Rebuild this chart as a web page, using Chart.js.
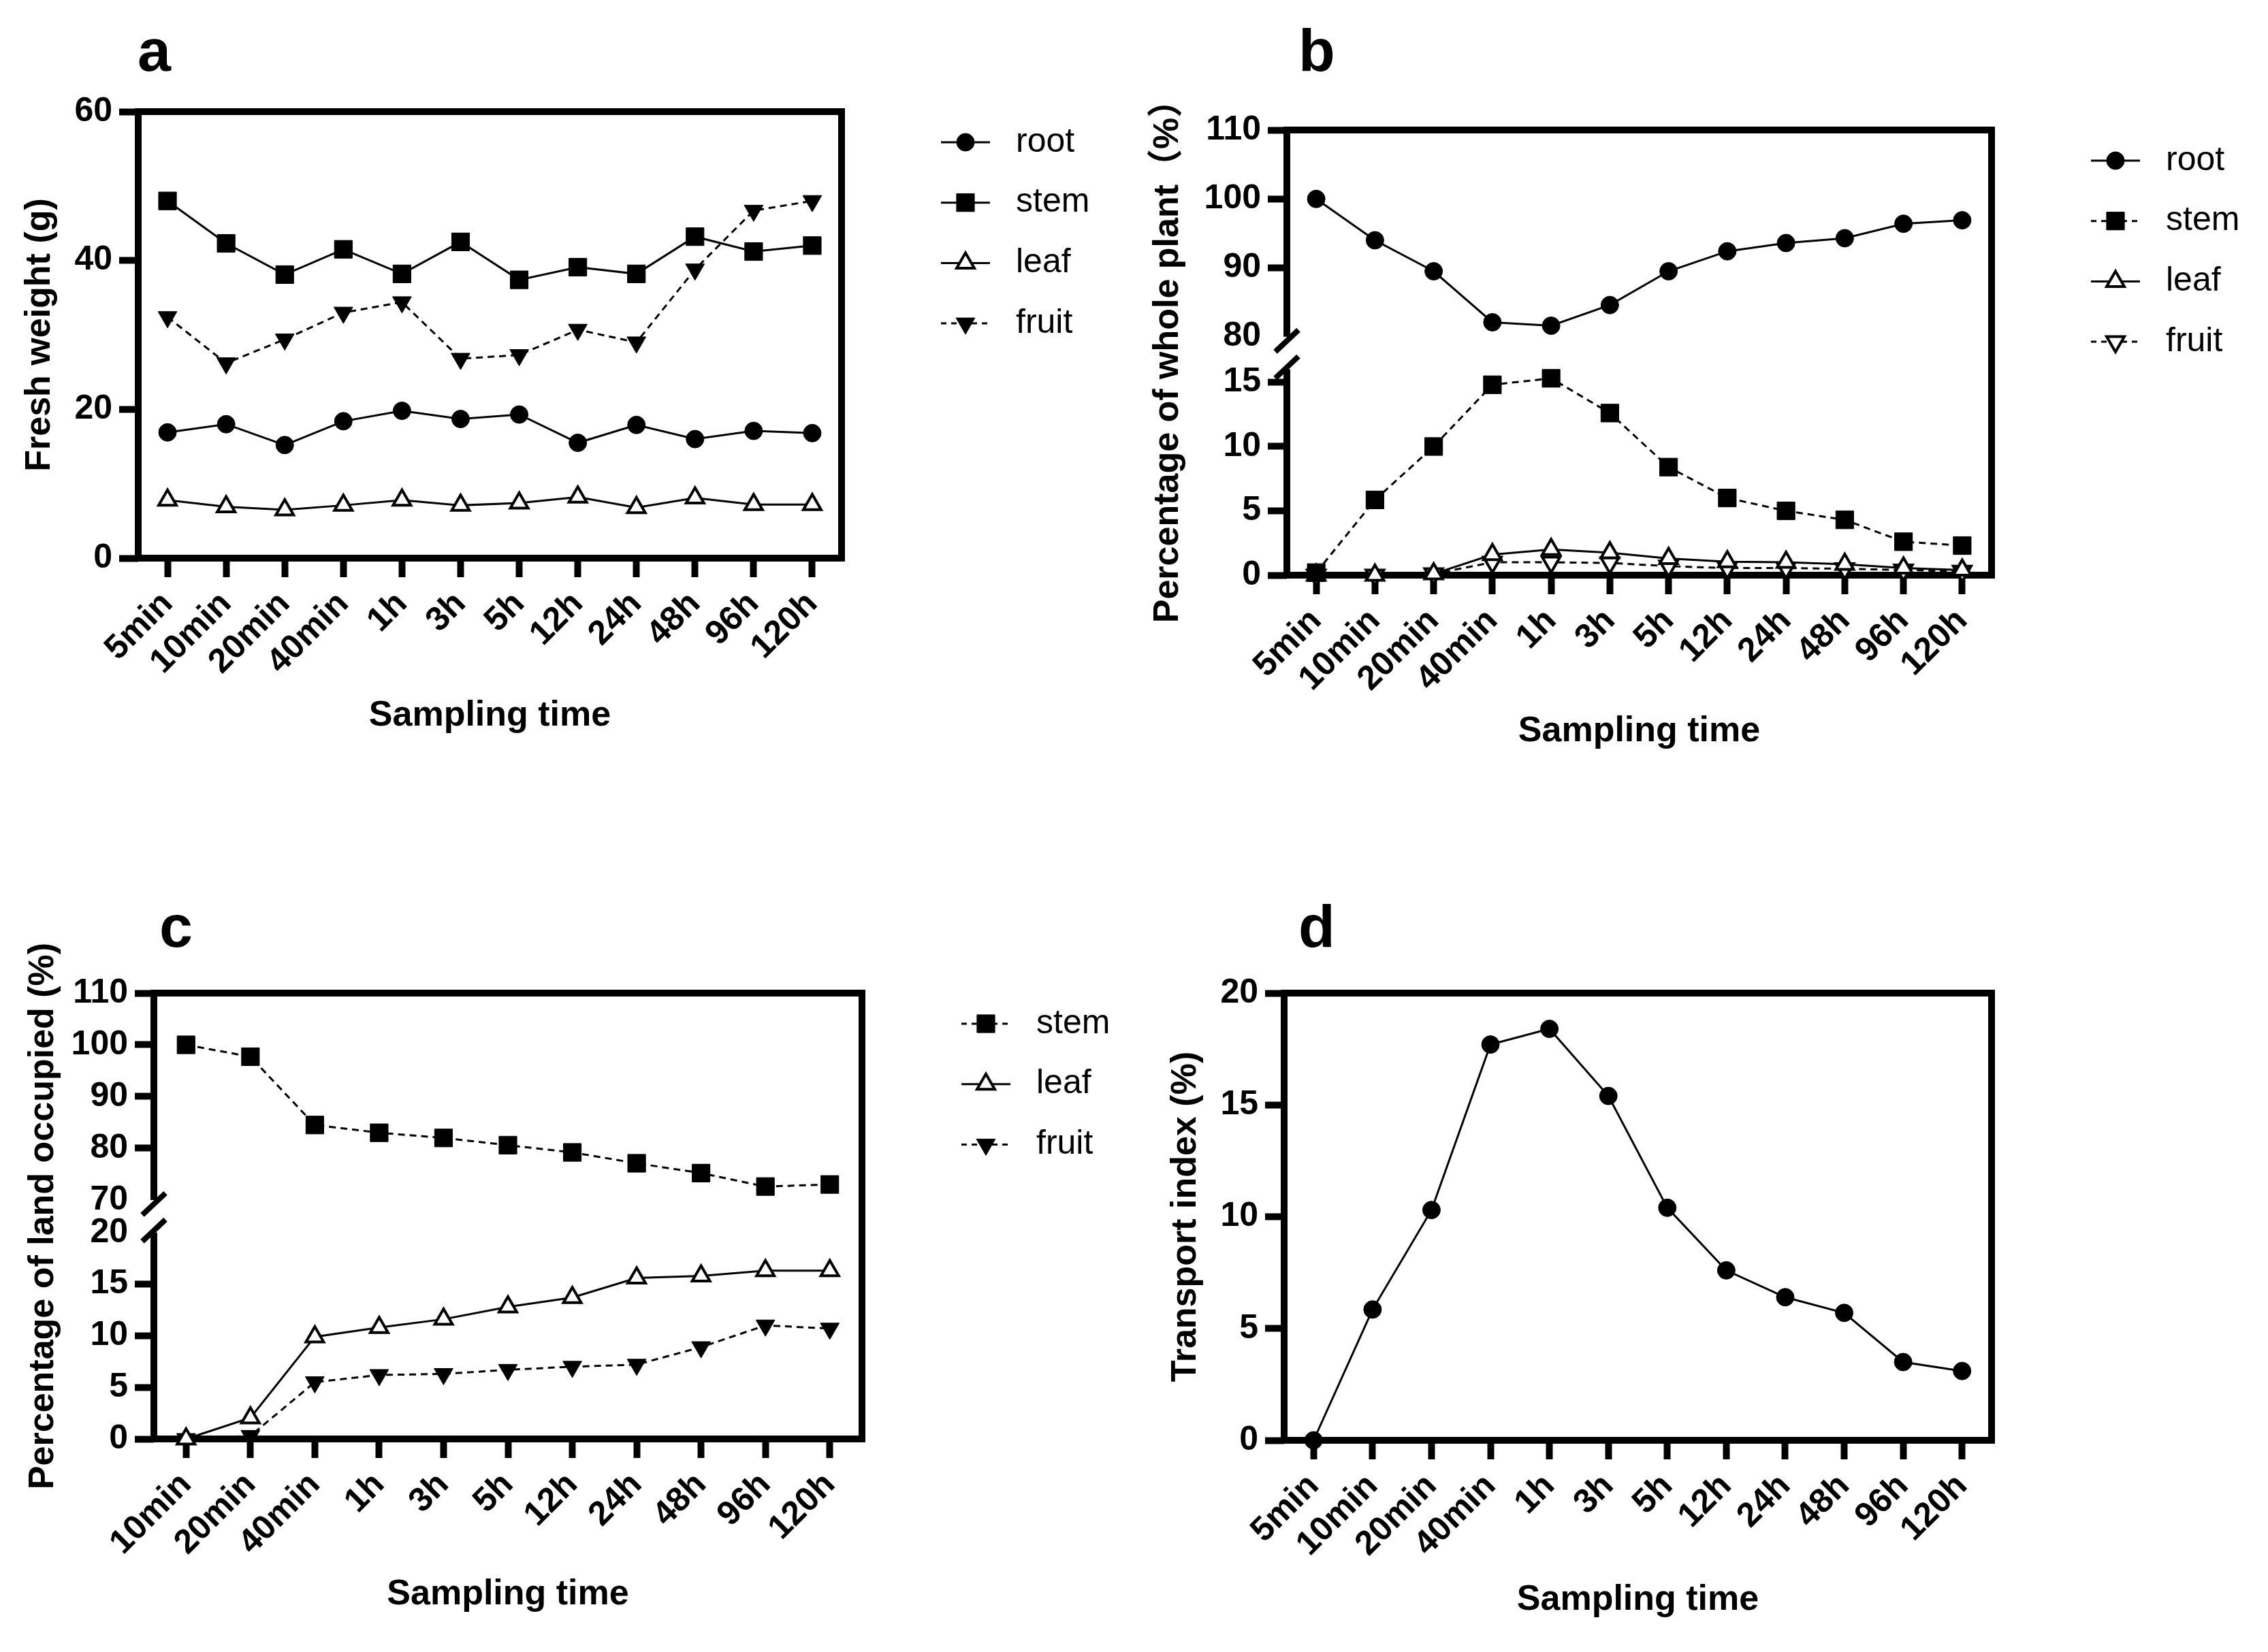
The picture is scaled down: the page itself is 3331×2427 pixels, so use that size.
<!DOCTYPE html>
<html>
<head>
<meta charset="utf-8">
<script src="https://cdn.jsdelivr.net/npm/chart.js"></script>
<style>
html, body { margin: 0; padding: 0; background: #fff; }
body { width: 3331px; height: 2427px; position: relative; overflow: hidden; font-family: "Liberation Sans", Arial, sans-serif; }
.box { position: absolute; }
.tag { position: absolute; font-weight: bold; font-size: 88px; line-height: 1; color: #000; }
</style>
</head>
<body>
<div class="tag" style="left:202px;top:30px">a</div>
<div class="tag" style="left:1907px;top:30px">b</div>
<div class="tag" style="left:234px;top:1317px">c</div>
<div class="tag" style="left:1907px;top:1317px">d</div>

<div class="box" style="left:0px;top:0px;width:1665px;height:1214px"><canvas id="chartA"></canvas></div>
<div class="box" style="left:1665px;top:0px;width:1666px;height:1214px"><canvas id="chartB"></canvas></div>
<div class="box" style="left:0px;top:1214px;width:1665px;height:1213px"><canvas id="chartC"></canvas></div>
<div class="box" style="left:1665px;top:1214px;width:1666px;height:1213px"><canvas id="chartD"></canvas></div>

<script>
// sampling times
const times = ['5min', '10min', '20min', '40min', '1h', '3h', '5h', '12h', '24h', '48h', '96h', '120h'];
const landTimes = ['10min', '20min', '40min', '1h', '3h', '5h', '12h', '24h', '48h', '96h', '120h'];

// a: fresh weight (g)
const weightRoot = [16.9, 18.0, 15.2, 18.4, 19.8, 18.7, 19.3, 15.5, 17.9, 16.0, 17.1, 16.8];
const weightStem = [48.0, 42.3, 38.1, 41.5, 38.2, 42.5, 37.4, 39.1, 38.2, 43.2, 41.2, 42.0];
const weightLeaf = [7.8, 6.9, 6.5, 7.1, 7.8, 7.1, 7.4, 8.2, 6.8, 8.1, 7.2, 7.2];
const weightFruit = [32.4, 26.2, 29.4, 33.0, 34.4, 26.8, 27.3, 30.7, 29.0, 38.8, 46.7, 48.0];

// b: percentage of whole plant
const shareRoot = [100, 94.0, 89.5, 82.1, 81.6, 84.6, 89.5, 92.4, 93.6, 94.3, 96.4, 96.9];
const shareStem = [0.2, 5.85, 10.0, 14.8, 15.3, 12.6, 8.4, 6.0, 5.0, 4.3, 2.6, 2.3];
const shareLeaf = [0, 0, 0.1, 1.6, 2.0, 1.75, 1.3, 1.05, 1.0, 0.85, 0.55, 0.4];
const shareFruit = [0, 0, 0.1, 1.0, 1.0, 0.95, 0.7, 0.55, 0.55, 0.5, 0.4, 0.3];

// c: percentage of land occupied
const landStem = [100, 97.7, 84.5, 83.0, 82.0, 80.6, 79.2, 77.1, 75.2, 72.6, 73.0];
const landLeaf = [0, 2.05, 9.9, 10.8, 11.6, 12.8, 13.7, 15.6, 15.8, 16.3, 16.3];
const landFruit = [0, 0.3, 5.5, 6.2, 6.3, 6.7, 7.0, 7.2, 8.9, 11.0, 10.7];

// d: transport index
const transportIndex = [0, 5.85, 10.3, 17.7, 18.4, 15.4, 10.4, 7.6, 6.4, 5.7, 3.5, 3.1];

// tick labels
const ticksWeight = [0, 20, 40, 60];
const ticksShareTop = [80, 90, 100, 110];
const ticksShareLow = [0, 5, 10, 15];
const ticksLandTop = [70, 80, 90, 100, 110];
const ticksLandLow = [0, 5, 10, 15, 20];
const ticksTransport = [0, 5, 10, 15, 20];

const BLACK = '#000';
const FONT = '"Liberation Sans", Arial, "Noto Sans CJK SC", sans-serif';
Chart.defaults.font.family = FONT;
Chart.defaults.color = BLACK;

const markers = {
  dot:       {pointStyle: 'circle', pointRadius: 13, pointRotation: 0, pointBackgroundColor: BLACK, pointBorderWidth: 1},
  square:    {pointStyle: 'rect', pointRadius: 18.5, pointRotation: 0, pointBackgroundColor: BLACK, pointBorderWidth: 1},
  upOpen:    {pointStyle: 'triangle', pointRadius: 15, pointRotation: 0, pointBackgroundColor: '#fff', pointBorderWidth: 4},
  downFill:  {pointStyle: 'triangle', pointRadius: 16, pointRotation: 180, pointBackgroundColor: BLACK, pointBorderWidth: 1},
  downOpen:  {pointStyle: 'triangle', pointRadius: 15, pointRotation: 180, pointBackgroundColor: '#fff', pointBorderWidth: 4}
};

function series(label, data, marker, dashed, axis) {
  return Object.assign({
    label: label,
    data: data,
    yAxisID: axis || 'y',
    borderColor: BLACK,
    borderWidth: 3,
    borderDash: dashed ? [10, 7] : [],
    pointBorderColor: BLACK,
    tension: 0,
    clip: false
  }, markers[marker]);
}

function yScale(ticks, min, max, width, extra, hidden) {
  return Object.assign({
    type: 'linear',
    position: 'left',
    min: min,
    max: max,
    border: {display: false},
    grid: {
      drawOnChartArea: false,
      tickLength: 28,
      tickWidth: 10,
      tickColor: ctx => (hidden && ctx.tick && hidden.includes(ctx.tick.value)) ? 'rgba(0,0,0,0)' : BLACK
    },
    ticks: {autoSkip: false, padding: 10, font: {size: 50, weight: 'bold'}, color: BLACK},
    afterBuildTicks: s => { s.ticks = ticks.map(v => ({value: v})); },
    afterFit: s => { s.width = width; }
  }, extra || {});
}

function xScale(height, titlePad) {
  return {
    type: 'category',
    offset: true,
    border: {display: false},
    grid: {drawOnChartArea: false, tickLength: 28, tickWidth: 10, tickColor: BLACK},
    ticks: {autoSkip: false, minRotation: 45, maxRotation: 45, padding: 10, font: {size: 50, weight: 'bold'}, color: BLACK},
    title: {display: true, text: 'Sampling time', color: BLACK, font: {size: 52, weight: 'bold'}, padding: {top: 0, bottom: titlePad}},
    afterFit: s => { s.height = height; }
  };
}

// box round the plot, left side broken when two stacked axes are used
const framePlugin = {
  id: 'frame',
  beforeDatasetsDraw(chart, args, opts) {
    const {ctx, chartArea: a} = chart;
    ctx.save();
    ctx.strokeStyle = BLACK;
    ctx.lineWidth = 10;
    ctx.lineJoin = 'miter';
    ctx.lineCap = 'square';
    ctx.beginPath();
    if (opts.breakTop === undefined) {
      ctx.rect(a.left, a.top, a.right - a.left, a.bottom - a.top);
      ctx.stroke();
    } else {
      const yEnd = chart.scales.yTop.getPixelForValue(opts.breakTop);
      const yStart = chart.scales.y.getPixelForValue(opts.breakLow);
      ctx.lineCap = 'butt';
      ctx.moveTo(a.left, yEnd);
      ctx.lineTo(a.left, a.top);
      ctx.lineTo(a.right, a.top);
      ctx.lineTo(a.right, a.bottom);
      ctx.lineTo(a.left, a.bottom);
      ctx.lineTo(a.left, yStart);
      ctx.stroke();
      ctx.lineWidth = 8;
      [yEnd + 6, yStart - 3].forEach(yc => {
        ctx.beginPath();
        ctx.moveTo(a.left - 17, yc + 16);
        ctx.lineTo(a.left + 17, yc - 16);
        ctx.stroke();
      });
    }
    ctx.restore();
  }
};

// legend at the right: line + marker + name
const sideLegend = {
  id: 'sideLegend',
  afterDraw(chart) {
    const {ctx, chartArea: a} = chart;
    const x0 = a.right + 146;
    chart.data.datasets.forEach((ds, i) => {
      const y = a.top + 45 + i * 88.7;
      ctx.save();
      ctx.strokeStyle = BLACK;
      ctx.lineWidth = 3;
      ctx.setLineDash(ds.borderDash.length ? [8, 7] : []);
      ctx.beginPath();
      ctx.moveTo(x0, y);
      ctx.lineTo(x0 + 72, y);
      ctx.stroke();
      ctx.setLineDash([]);
      ctx.fillStyle = ds.pointBackgroundColor;
      ctx.strokeStyle = BLACK;
      ctx.lineWidth = ds.pointBorderWidth;
      Chart.helpers.drawPoint(ctx, {pointStyle: ds.pointStyle, rotation: ds.pointRotation, radius: ds.pointRadius, borderWidth: ds.pointBorderWidth}, x0 + 36, y);
      ctx.fillStyle = BLACK;
      ctx.font = '50px ' + FONT;
      ctx.textAlign = 'left';
      ctx.textBaseline = 'middle';
      ctx.fillText(ds.label, a.right + 256, y);
      ctx.restore();
    });
  }
};

// rotated y title centred on the whole plot height
const yTitle = {
  id: 'yTitle',
  afterDraw(chart, args, opts) {
    const {ctx, chartArea: a} = chart;
    ctx.save();
    ctx.translate(opts.x, (a.top + a.bottom) / 2);
    ctx.rotate(-Math.PI / 2);
    ctx.font = 'bold 52px ' + FONT;
    ctx.fillStyle = BLACK;
    ctx.textAlign = 'center';
    ctx.textBaseline = 'middle';
    ctx.fillText(opts.text, 0, 0);
    ctx.restore();
  }
};

function makeChart(id, labels, datasets, scales, padTop, padRight, plugins) {
  return new Chart(document.getElementById(id), {
    type: 'line',
    data: {labels: labels, datasets: datasets},
    options: {
      responsive: true,
      maintainAspectRatio: false,
      devicePixelRatio: 1,
      animation: false,
      events: [],
      layout: {padding: {top: padTop, right: padRight, left: 0, bottom: 0}},
      scales: scales,
      plugins: Object.assign({legend: {display: false}, tooltip: {enabled: false}}, plugins)
    },
    plugins: [framePlugin, sideLegend, yTitle]
  });
}

makeChart('chartA', times, [
  series('root', weightRoot, 'dot', false),
  series('stem', weightStem, 'square', false),
  series('leaf', weightLeaf, 'upOpen', false),
  series('fruit', weightFruit, 'downFill', true)
], {
  x: xScale(394, 131),
  y: yScale(ticksWeight, 0, 60, 203)
}, 164, 429, {frame: {}, yTitle: {text: 'Fresh weight (g)', x: 59}});

makeChart('chartB', times, [
  series('root', shareRoot, 'dot', false, 'yTop'),
  series('stem', shareStem, 'square', true),
  series('leaf', shareLeaf, 'upOpen', false),
  series('fruit', shareFruit, 'downOpen', true)
], {
  x: xScale(369, 108),
  y: yScale(ticksShareLow, 0, 17.3, 225, {stack: 'share', stackWeight: 1, weight: 0}),
  yTop: yScale(ticksShareTop, 77.7, 110, 225, {stack: 'share', stackWeight: 1, weight: 1}, [80])
}, 191, 406, {frame: {breakTop: 80, breakLow: 16}, yTitle: {text: 'Percentage of whole plant（%）', x: 51}});

makeChart('chartC', landTimes, [
  series('stem', landStem, 'square', true, 'yTop'),
  series('leaf', landLeaf, 'upOpen', false),
  series('fruit', landFruit, 'downFill', true)
], {
  x: xScale(313, 53),
  y: yScale(ticksLandLow, 0, 21.6, 226, {stack: 'land', stackWeight: 1, weight: 0}, [20]),
  yTop: yScale(ticksLandTop, 66.9, 110, 226, {stack: 'land', stackWeight: 1, weight: 1}, [70])
}, 245, 399, {frame: {breakTop: 70, breakLow: 20}, yTitle: {text: 'Percentage of land occupied (%)', x: 64}});

makeChart('chartD', times, [
  series('transport index', transportIndex, 'dot', false)
], {
  x: xScale(311, 45),
  y: yScale(ticksTransport, 0, 20, 221)
}, 245, 406, {frame: {}, yTitle: {text: 'Transport index (%)', x: 77}, sideLegend: false});
</script>
</body>
</html>
